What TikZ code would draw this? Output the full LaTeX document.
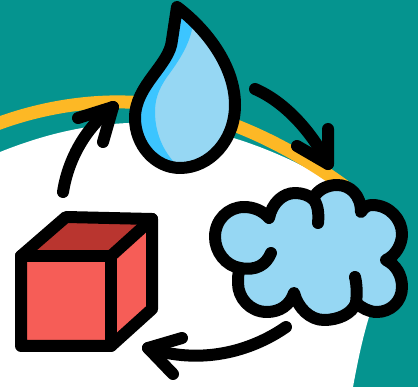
\documentclass[tikz,border=0pt]{standalone}
\usetikzlibrary{calc}
\definecolor{tealbg}{HTML}{05948F}
\definecolor{bandyellow}{HTML}{FDB825}
\definecolor{waterlight}{HTML}{96D7F3}
\definecolor{waterdark}{HTML}{3CC5FF}
\definecolor{cubefront}{HTML}{F65D57}
\definecolor{cubetop}{HTML}{B9352F}
\begin{document}
\begin{tikzpicture}[
    x=1pt,
    y=-1pt,
    outline/.style={
        draw=black,
        line width=12pt,
        line join=round,
        line cap=round
    },
    cycleline/.style={
        outline,
        fill=none
    }
]

\useasboundingbox (0,0) rectangle (418,387);

% --- BACKGROUND -----------------------------------------------

\fill[tealbg] (0,0) rectangle (418,387);
\fill[white] (0,152) .. controls (45,134) and (85,125) .. (128,123)
    .. controls (195,120) and (265,145) .. (316,173)
    .. controls (355,200) and (385,260) .. (369,317)
    .. controls (362,340) and (357,365) .. (353,387)
    -- (0,387) -- cycle;
\draw[bandyellow, line width=13pt] (-3,124) .. controls (40,108) and (85,101) .. (125,102)
    .. controls (195,103) and (275,135) .. (347,188);

% --- WATER DROP -----------------------------------------------

\fill[waterlight] (177,7) .. controls (205,28) and (235,65) .. (235,105)
    .. controls (235,140) and (210,168) .. (180,168)
    .. controls (155,168) and (135,145) .. (135,118)
    .. controls (135,85) and (170,65) .. (172,40) -- cycle;
\fill[waterdark] (177,7) -- (193,24) .. controls (190,45) and (178,62) .. (167,77)
    .. controls (158,90) and (155,100) .. (155,112)
    .. controls (155,135) and (165,155) .. (180,168)
    .. controls (155,168) and (135,145) .. (135,118)
    .. controls (135,85) and (170,65) .. (172,40) -- cycle;
\draw[outline] (177,7) .. controls (205,28) and (235,65) .. (235,105)
    .. controls (235,140) and (210,168) .. (180,168)
    .. controls (155,168) and (135,145) .. (135,118)
    .. controls (135,85) and (170,65) .. (172,40) -- cycle;

% --- CUBE -----------------------------------------------------

\fill[cubetop] (21,256) -- (66,217) -- (152,219) -- (111,256) -- cycle;
\fill[cubefront] (21,256) rectangle (111,346);
\fill[cubefront] (111,256) -- (152,219) -- (152,309) -- (111,346) -- cycle;
\draw[outline] (21,256) -- (66,217) -- (152,219) -- (152,309) -- (111,346) -- (21,346) -- cycle;
\draw[outline] (21,256) -- (111,256) -- (111,346);
\draw[outline] (111,256) -- (152,219);

% --- CLOUD ----------------------------------------------------

\coordinate (cuspTop) at (313,199);
\coordinate (cuspLeft) at (240,268);
\coordinate (cuspLow) at (356,303);
\draw[outline, fill=waterlight] (269,218) .. controls (272,203) and (283,193) .. (295,193)
    .. controls (302,193) and (308,195) .. (cuspTop)
    .. controls (317,190) and (327,185) .. (337,185)
    .. controls (350,185) and (361,195) .. (361,212)
    .. controls (364,207) and (368,205) .. (372,205)
    .. controls (390,205) and (402,220) .. (402,234)
    .. controls (402,245) and (395,256) .. (386,260)
    .. controls (396,265) and (402,275) .. (402,287)
    .. controls (402,302) and (390,312) .. (377,312)
    .. controls (369,312) and (362,308) .. (cuspLow)
    .. controls (352,314) and (338,320) .. (324,320)
    .. controls (310,320) and (298,308) .. (294,293)
    .. controls (290,305) and (280,312) .. (267,312)
    .. controls (250,312) and (238,298) .. (238,283)
    .. controls (238,277) and (238,274) .. (cuspLeft)
    .. controls (226,266) and (215,252) .. (215,237)
    .. controls (215,220) and (228,207) .. (244,207)
    .. controls (254,207) and (263,211) .. (269,218) -- cycle;
\draw[outline] (cuspLeft) .. controls (256,271) and (266,265) .. (271,253);
\draw[outline] (cuspTop) .. controls (318,204) and (319,214) .. (318,223);
\draw[outline] (355,277) .. controls (357,285) and (357,295) .. (cuspLow);

% --- CYCLE ARROWS ---------------------------------------------

\coordinate (cubeOut) at (63,192);
\coordinate (dropIn) at (113,107);
\coordinate (dropOut) at (255,89);
\coordinate (cloudIn) at (328,164);
\coordinate (cloudOut) at (286,327);
\coordinate (cubeIn) at (148,348);

\draw[cycleline] (cubeOut) .. controls (68,160) and (85,128) .. (dropIn);
\draw[cycleline] (78,118) -- (dropIn) -- (103,142);

\draw[cycleline] (dropOut) .. controls (285,102) and (312,132) .. (cloudIn);
\draw[cycleline] (328,129) -- (cloudIn) -- (297,146);

\draw[cycleline] (cloudOut) .. controls (250,352) and (200,365) .. (cubeIn);
\draw[cycleline] (182,338) -- (cubeIn) -- (173,374);

\end{tikzpicture}
\end{document}
